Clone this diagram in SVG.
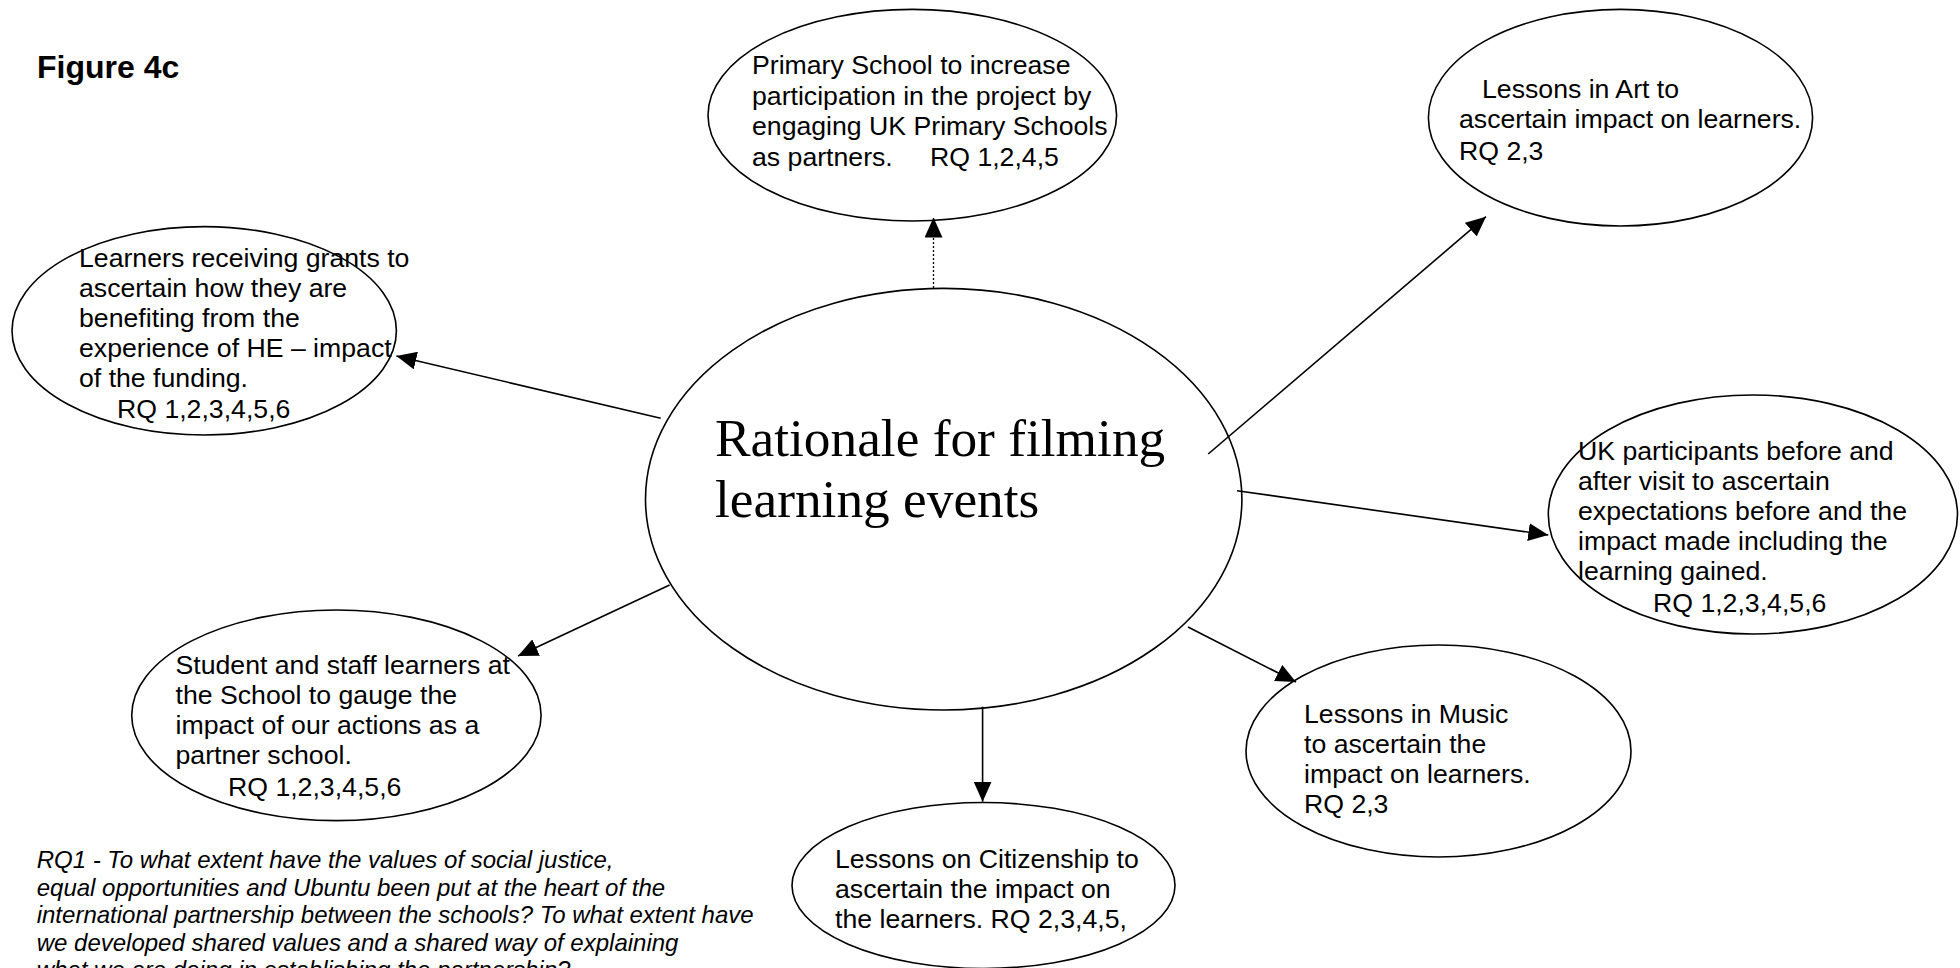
<svg xmlns="http://www.w3.org/2000/svg" width="1960" height="968" viewBox="0 0 1960 968">
<defs>
<marker id="ah" markerWidth="20" markerHeight="18" refX="20" refY="9" orient="auto" markerUnits="userSpaceOnUse"><path d="M0,0 L20,9 L0,18 z" fill="#000"/></marker>
<style>
.n ellipse{fill:none;stroke:#000;stroke-width:1.6}
.t{font-family:"Liberation Sans",Arial,sans-serif;font-size:26.67px;fill:#000}
.c{font-family:"Liberation Serif","Times New Roman",serif;font-size:53.33px;fill:#000}
.ti{font-family:"Liberation Sans",Arial,sans-serif;font-size:32px;font-weight:bold;fill:#000}
.rq{font-family:"Liberation Sans",Arial,sans-serif;font-size:24px;font-style:italic;fill:#000}
.e{stroke:#000;stroke-width:1.6;fill:none;marker-end:url(#ah)}
.d{stroke:#000;stroke-width:1.3;fill:none;stroke-dasharray:2 2;marker-end:url(#ah)}
</style>
</defs>
<rect width="1960" height="968" fill="#fff"/>
<text class="ti" x="37" y="78">Figure 4c</text>

<g id="center" class="n">
<ellipse cx="943.7" cy="499.2" rx="298.2" ry="210.8"/>
<text class="c" x="715" y="456">Rationale for filming</text>
<text class="c" x="715" y="516.7">learning events</text>
</g>

<g id="primary" class="n">
<ellipse cx="912.3" cy="115.2" rx="204.3" ry="105.8"/>
<text class="t" x="752" y="74">Primary School to increase</text>
<text class="t" x="752" y="104.5">participation in the project by</text>
<text class="t" x="752" y="135">engaging UK Primary Schools</text>
<text class="t" x="752" y="165.5">as partners.<tspan x="930">RQ 1,2,4,5</tspan></text>
</g>

<g id="art" class="n">
<ellipse cx="1620.5" cy="117.7" rx="192.1" ry="108.3"/>
<text class="t" x="1482" y="98.3">Lessons in Art to</text>
<text class="t" x="1459" y="128.3">ascertain impact on learners.</text>
<text class="t" x="1459" y="160">RQ 2,3</text>
</g>

<g id="grants" class="n">
<ellipse cx="204.2" cy="330.8" rx="192.2" ry="104.2"/>
<text class="t" x="79" y="266.7">Learners receiving grants to</text>
<text class="t" x="79" y="296.7">ascertain how they are</text>
<text class="t" x="79" y="326.7">benefiting from the</text>
<text class="t" x="79" y="356.7">experience of HE – impact</text>
<text class="t" x="79" y="386.7">of the funding.</text>
<text class="t" x="117" y="418">RQ 1,2,3,4,5,6</text>
</g>

<g id="uk" class="n">
<ellipse cx="1752.9" cy="514.5" rx="204.6" ry="119.5"/>
<text class="t" x="1578" y="460">UK participants before and</text>
<text class="t" x="1578" y="490">after visit to ascertain</text>
<text class="t" x="1578" y="520">expectations before and the</text>
<text class="t" x="1578" y="550">impact made including the</text>
<text class="t" x="1578" y="580">learning gained.</text>
<text class="t" x="1653" y="611.7">RQ 1,2,3,4,5,6</text>
</g>

<g id="student" class="n">
<ellipse cx="336.4" cy="715.3" rx="204.7" ry="105.3"/>
<text class="t" x="175.5" y="674">Student and staff learners at</text>
<text class="t" x="175.5" y="704">the School to gauge the</text>
<text class="t" x="175.5" y="734">impact of our actions as a</text>
<text class="t" x="175.5" y="764">partner school.</text>
<text class="t" x="228" y="795.5">RQ 1,2,3,4,5,6</text>
</g>

<g id="music" class="n">
<ellipse cx="1438.5" cy="751" rx="192.5" ry="106"/>
<text class="t" x="1304" y="723">Lessons in Music</text>
<text class="t" x="1304" y="753">to ascertain the</text>
<text class="t" x="1304" y="783">impact on learners.</text>
<text class="t" x="1304" y="813">RQ 2,3</text>
</g>

<g id="citizenship" class="n">
<ellipse cx="983.5" cy="885.5" rx="191.5" ry="83"/>
<text class="t" x="835" y="868">Lessons on Citizenship to</text>
<text class="t" x="835" y="898">ascertain the impact on</text>
<text class="t" x="835" y="928">the learners. RQ 2,3,4,5,</text>
</g>

<g id="rq-note">
<text class="rq" x="36.7" y="868">RQ1 - To what extent have the values of social justice,</text>
<text class="rq" x="36.7" y="895.5">equal opportunities and Ubuntu been put at the heart of the</text>
<text class="rq" x="36.7" y="923">international partnership between the schools? To what extent have</text>
<text class="rq" x="36.7" y="950.5">we developed shared values and a shared way of explaining</text>
<text class="rq" x="36.7" y="978">what we are doing in establishing the partnership?</text>
</g>

<g id="connectors">
<line class="d" x1="933.5" y1="288" x2="933.5" y2="217.5"/>
<line class="e" x1="1208.2" y1="454" x2="1486" y2="216.7"/>
<line class="e" x1="660.7" y1="418.3" x2="396.4" y2="356"/>
<line class="e" x1="1237" y1="490.7" x2="1548.3" y2="535"/>
<line class="e" x1="669.6" y1="585" x2="518" y2="656"/>
<line class="e" x1="1188" y1="627" x2="1296" y2="682"/>
<line class="e" x1="982.6" y1="706.7" x2="982.6" y2="801.7"/>
</g>
</svg>
